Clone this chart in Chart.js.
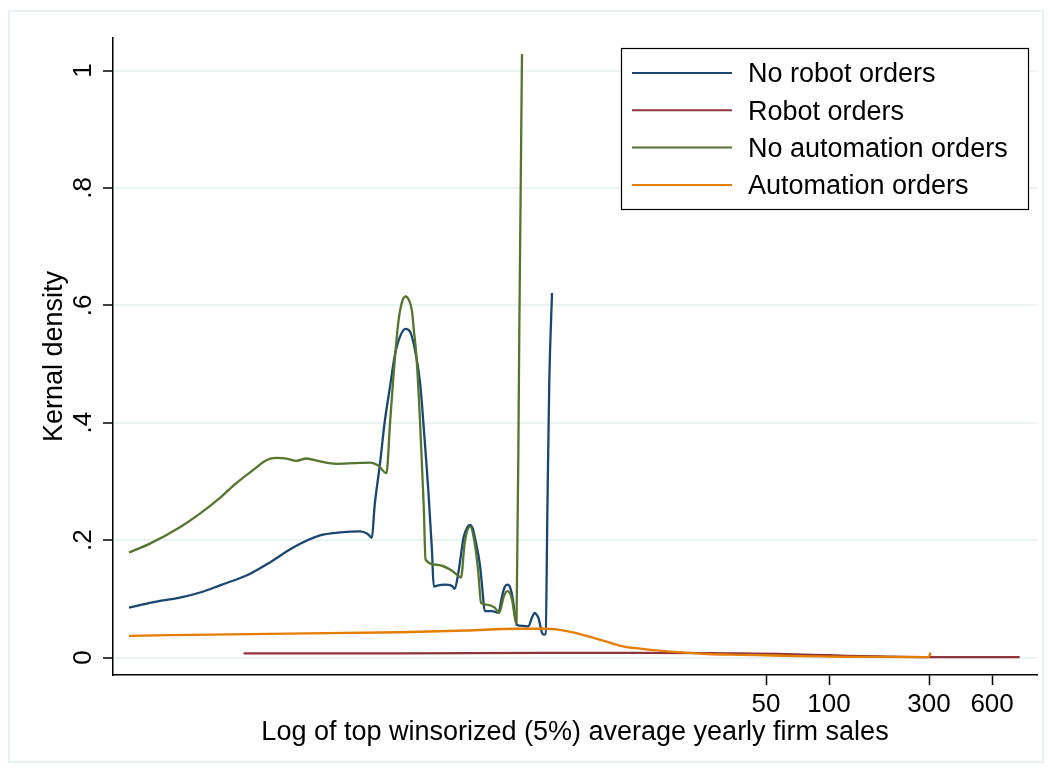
<!DOCTYPE html>
<html>
<head>
<meta charset="utf-8">
<script src="https://cdn.jsdelivr.net/npm/chart.js@4.4.1/dist/chart.umd.min.js"></script>
<style>
  html, body { margin: 0; padding: 0; background: #fff; }
  #caixa { position: relative; width: 1052px; height: 772px; }
</style>
</head>
<body>
<div id="caixa"><canvas id="grafico"></canvas></div>
<script>
// kdensity de log(vendas) por grupo de pedidos

const nomesSeries = ['No robot orders', 'Robot orders', 'No automation orders', 'Automation orders'];
const coresSeries = ['#1a476f', '#90353b', '#55752f', '#e37e00'];

// eixo x em log(vendas)
const semRobotX = [-3.09, -2.83, -2.53, -2.28, -2.09, -1.78, -1.54, -1.29, -0.99, -0.77, -0.55, -0.47, -0.42,
    -0.39, -0.33, -0.28, -0.22, -0.17, -0.11, -0.05, 0.00, 0.05, 0.11, 0.16, 0.20, 0.24, 0.26, 0.31, 0.38,
    0.46, 0.49, 0.53, 0.59, 0.63, 0.66, 0.69, 0.71, 0.77, 0.80, 0.82, 0.90, 0.97, 1.01, 1.04, 1.07, 1.10,
    1.13, 1.15, 1.17, 1.24, 1.30, 1.34, 1.37, 1.39, 1.41, 1.45, 1.47, 1.49, 1.51, 1.53, 1.56];
const semRobotY = [0.085, 0.094, 0.102, 0.112, 0.123, 0.141, 0.162, 0.187, 0.208, 0.213, 0.215, 0.211, 0.204,
    0.258, 0.331, 0.400, 0.462, 0.513, 0.547, 0.560, 0.555, 0.527, 0.468, 0.371, 0.286, 0.184, 0.121, 0.123, 0.124,
    0.122, 0.117, 0.144, 0.206, 0.222, 0.226, 0.219, 0.206, 0.155, 0.107, 0.079, 0.079, 0.076, 0.104, 0.120, 0.124, 0.119,
    0.099, 0.075, 0.056, 0.054, 0.053, 0.068, 0.076, 0.073, 0.068, 0.042, 0.039, 0.040, 0.260, 0.470, 0.621];

const robotX = [-1.83, -0.11, 1.43, 2.53, 3.30, 3.63, 4.05, 4.43, 4.80, 5.17, 5.72, 6.70];
const robotY = [0.007, 0.007, 0.008, 0.008, 0.0075, 0.0068, 0.006, 0.0046, 0.0029, 0.0017, 0.0005, 0.0005];

const semAutoX = [-3.09, -2.86, -2.53, -2.31, -2.09, -1.91, -1.72, -1.58, -1.47, -1.36, -1.25, -1.14, -0.99,
    -0.81, -0.62, -0.44, -0.35, -0.26, -0.22, -0.18, -0.13, -0.09, -0.05, -0.01, 0.02, 0.04, 0.07, 0.11, 0.15,
    0.17, 0.29, 0.44, 0.54, 0.56, 0.60, 0.66, 0.71, 0.75, 0.78, 0.84, 0.93, 0.98, 1.03, 1.07, 1.12, 1.15,
    1.17, 1.20, 1.23];
const semAutoY = [0.179, 0.194, 0.222, 0.245, 0.272, 0.297, 0.320, 0.336, 0.340, 0.339, 0.335, 0.339, 0.334,
    0.330, 0.331, 0.332, 0.327, 0.314, 0.400, 0.485, 0.570, 0.605, 0.615, 0.608, 0.591, 0.560, 0.513, 0.400, 0.258,
    0.167, 0.158, 0.150, 0.138, 0.136, 0.195, 0.223, 0.195, 0.145, 0.093, 0.090, 0.085, 0.076, 0.104, 0.113, 0.099, 0.070,
    0.058, 0.550, 1.028];

const autoX = [-3.09, -1.76, -0.11, 0.62, 1.17, 1.50, 1.61, 1.79, 1.98, 2.16, 2.34, 2.53, 2.71, 2.89, 3.26,
    3.63, 3.99, 4.29, 4.80, 5.70, 5.72];
const autoY = [0.037, 0.040, 0.043, 0.046, 0.049, 0.049, 0.048, 0.043, 0.035, 0.027, 0.019, 0.015, 0.012, 0.0097,
    0.006, 0.0046, 0.0034, 0.0023, 0.0012, 0.0005, 0.008];

// rotulos do eixo x em vendas, posicionados em log
const xTickLabels = [50, 100, 300, 600];
const yTickValues = [0, 0.2, 0.4, 0.6, 0.8, 1];
const yTickLabels = ['0', '.2', '.4', '.6', '.8', '1'];

const fonte = '"Liberation Sans", Arial, Helvetica, sans-serif';

function pontos(xs, ys) {
    return xs.map((x, i) => ({ x: x, y: ys[i] }));
}

const series = [
    pontos(semRobotX, semRobotY),
    pontos(robotX, robotY),
    pontos(semAutoX, semAutoY),
    pontos(autoX, autoY)
];

// Fundo branco e moldura clara em volta do grafico
const moldura = {
    id: 'moldura',
    beforeDraw(chart) {
        const ctx = chart.ctx;
        ctx.save();
        ctx.fillStyle = '#fff';
        ctx.fillRect(0, 0, chart.width, chart.height);
        ctx.strokeStyle = '#eaf0f2';
        ctx.lineWidth = 2;
        ctx.strokeRect(9, 11, chart.width - 18, chart.height - 21);
        ctx.restore();
    }
};

// Rotulos do eixo y girados (estilo Stata)
const rotulosY = {
    id: 'rotulosY',
    afterDraw(chart) {
        const ctx = chart.ctx;
        const s = chart.scales.y;
        ctx.save();
        ctx.font = '26px ' + fonte;
        ctx.fillStyle = '#000';
        ctx.textAlign = 'center';
        ctx.textBaseline = 'alphabetic';
        yTickValues.forEach((v, i) => {
            const py = s.getPixelForValue(v);
            ctx.save();
            ctx.translate(s.right - 22, py);
            ctx.rotate(-Math.PI / 2);
            ctx.fillText(yTickLabels[i], 0, 0);
            ctx.restore();
        });
        ctx.restore();
    }
};

// Legenda com caixa dentro da area do grafico
const legendaCaixa = {
    id: 'legendaCaixa',
    afterDraw(chart) {
        const { ctx, chartArea } = chart;
        const w = 407, h = 161;
        const x0 = chartArea.right - 9 - w;
        const y0 = chartArea.top + 10;
        ctx.save();
        ctx.fillStyle = '#fff';
        ctx.fillRect(x0, y0, w, h);
        ctx.strokeStyle = '#000';
        ctx.lineWidth = 1.2;
        ctx.strokeRect(x0 + 0.5, y0 + 0.5, w, h);
        ctx.font = '27px ' + fonte;
        ctx.textBaseline = 'middle';
        ctx.textAlign = 'left';
        chart.data.datasets.forEach((ds, i) => {
            const yy = y0 + 25 + i * 37.3;
            ctx.strokeStyle = ds.borderColor;
            ctx.lineWidth = 2;
            ctx.beginPath();
            ctx.moveTo(x0 + 11, yy);
            ctx.lineTo(x0 + 111, yy);
            ctx.stroke();
            ctx.fillStyle = '#000';
            ctx.fillText(ds.label, x0 + 127, yy + 2);
        });
        ctx.restore();
    }
};

new Chart(document.getElementById('grafico'), {
    type: 'line',
    data: {
        datasets: series.map((d, i) => ({
            label: nomesSeries[i],
            data: d,
            borderColor: coresSeries[i],
            backgroundColor: coresSeries[i],
            borderWidth: 2.3,
            pointRadius: 0,
            fill: false,
            cubicInterpolationMode: 'monotone',
            order: series.length - i
        }))
    },
    options: {
        responsive: true,
        maintainAspectRatio: false,
        animation: false,
        layout: { padding: { top: 38, right: 15, left: 0, bottom: 0 } },
        plugins: {
            legend: { display: false },
            tooltip: { enabled: false }
        },
        scales: {
            x: {
                type: 'linear',
                min: -3.2654,
                max: 6.8907,
                afterBuildTicks: s => { s.ticks = xTickLabels.map(v => ({ value: Math.log(v) })); },
                afterFit: s => { s.height = 97; },
                ticks: {
                    autoSkip: false,
                    maxRotation: 0,
                    padding: 4,
                    color: '#000',
                    font: { family: fonte, size: 26 },
                    callback: (v, i) => xTickLabels[i]
                },
                grid: { drawOnChartArea: false, drawTicks: true, tickLength: 10, tickColor: '#000', tickWidth: 1.5 },
                border: { color: '#000', width: 1.5 },
                title: {
                    display: true,
                    text: 'Log of top winsorized (5%) average yearly firm sales',
                    color: '#000',
                    font: { family: fonte, size: 27 },
                    padding: { top: 0, bottom: 23 }
                }
            },
            y: {
                min: -0.0298,
                max: 1.0554,
                afterBuildTicks: s => { s.ticks = yTickValues.map(v => ({ value: v })); },
                afterFit: s => { s.width = 113; },
                ticks: { display: false },
                grid: { color: '#eaf2f3', lineWidth: 2, tickColor: '#000', tickLength: 10, tickWidth: 1.5 },
                border: { color: '#000', width: 1.5 },
                title: {
                    display: true,
                    text: 'Kernal density',
                    color: '#000',
                    font: { family: fonte, size: 27 },
                    padding: { top: 38, bottom: 0 }
                }
            }
        }
    },
    plugins: [moldura, rotulosY, legendaCaixa]
});
</script>
</body>
</html>
